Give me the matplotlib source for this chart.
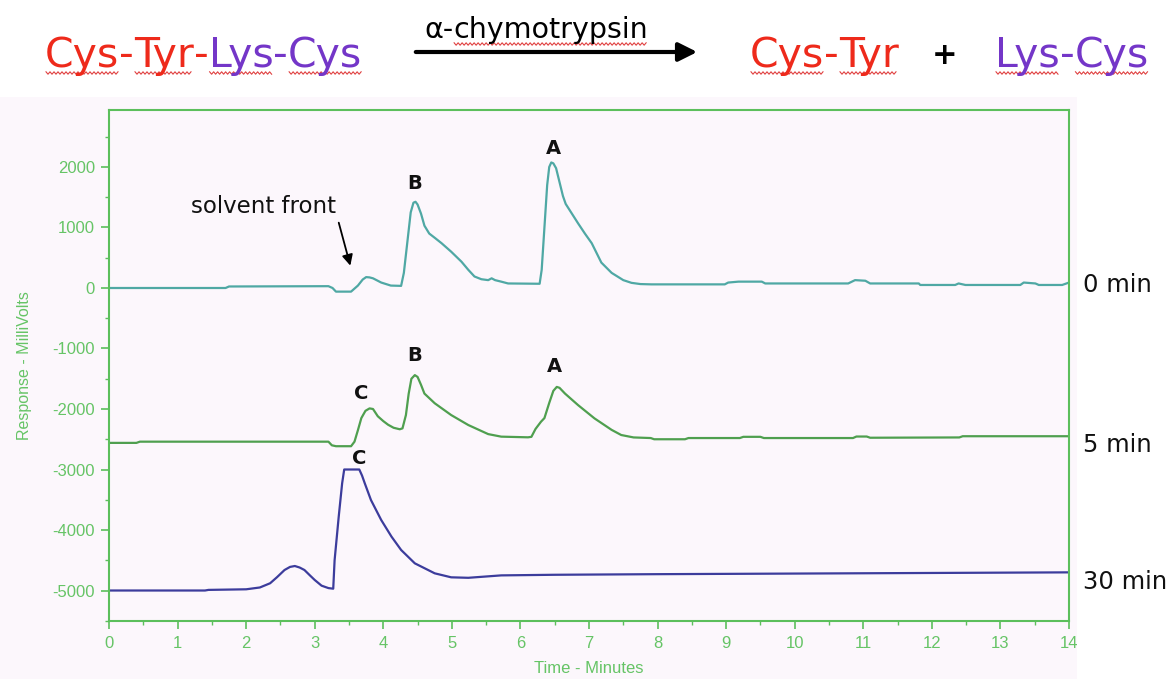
import numpy as np
import matplotlib
matplotlib.use("Agg")
import matplotlib.pyplot as plt
from matplotlib.patches import Rectangle, FancyArrowPatch
from matplotlib.lines import Line2D

# ---- chromatogram traces (time in minutes, response in millivolts) ----
t_0min = [0.00, 1.70, 1.75, 3.20, 3.26, 3.31, 3.53, 3.63, 3.70, 3.75, 3.80, 3.85,
          3.97, 4.11, 4.26, 4.30, 4.35, 4.40, 4.44, 4.47, 4.50, 4.55, 4.60, 4.67,
          4.75, 4.85, 4.99, 5.14, 5.24, 5.33, 5.43, 5.53, 5.58, 5.63, 5.72, 5.82,
          6.28, 6.31, 6.35, 6.39, 6.42, 6.45, 6.48, 6.52, 6.57, 6.62, 6.66, 6.75,
          6.84, 6.94, 7.04, 7.18, 7.33, 7.50, 7.62, 7.75, 7.91, 8.98, 9.03, 9.18,
          9.52, 9.57, 10.78, 10.88, 11.03, 11.10, 11.81, 11.83, 12.34, 12.39, 12.49,
          13.29, 13.34, 13.51, 13.56, 13.90, 14.00]
v_0min = [0, 0, 25, 30, 0, -60, -60, 40, 140, 180, 175, 160,
          90, 40, 35, 250, 750, 1250, 1410, 1425, 1380, 1230, 1030, 900,
          830, 740, 600, 435, 300, 190, 145, 130, 160, 130, 105, 75,
          70, 300, 1000, 1700, 2000, 2075, 2060, 1980, 1750, 1520, 1390, 1230,
          1070, 900, 740, 420, 250, 130, 85, 65, 60, 60, 90, 105,
          105, 75, 75, 130, 120, 75, 75, 50, 50, 75, 50,
          50, 90, 75, 50, 50, 90]

t_5min = [0.00, 0.40, 0.45, 3.20, 3.25, 3.31, 3.53, 3.58, 3.63, 3.68, 3.74, 3.80,
          3.85, 3.92, 4.00, 4.07, 4.15, 4.24, 4.28, 4.33, 4.37, 4.41, 4.46, 4.50,
          4.55, 4.60, 4.75, 4.99, 5.24, 5.53, 5.72, 6.11, 6.16, 6.22, 6.30, 6.35,
          6.42, 6.48, 6.53, 6.57, 6.65, 6.84, 7.08, 7.33, 7.47, 7.65, 7.90, 7.95,
          8.40, 8.45, 9.20, 9.25, 9.50, 9.55, 10.85, 10.90, 11.05, 11.10, 12.40,
          12.45, 14.00]
v_5min = [-2560, -2560, -2540, -2540, -2600, -2615, -2615, -2540, -2350, -2150, -2030, -1990,
          -2000, -2120, -2200, -2260, -2310, -2335, -2320, -2100, -1750, -1500, -1440, -1470,
          -1600, -1745, -1905, -2100, -2265, -2415, -2457, -2468, -2460, -2330, -2210, -2150,
          -1900, -1700, -1635, -1650, -1745, -1935, -2155, -2345, -2430, -2470, -2480, -2500,
          -2500, -2480, -2480, -2460, -2460, -2480, -2480, -2455, -2455, -2475, -2470,
          -2450, -2450]

t_30min = [0.00, 1.40, 1.45, 2.00, 2.20, 2.35, 2.45, 2.56, 2.64, 2.71, 2.78, 2.85,
           2.93, 3.00, 3.10, 3.20, 3.27, 3.29, 3.35, 3.40, 3.43, 3.65, 3.69, 3.73,
           3.82, 3.97, 4.12, 4.26, 4.46, 4.75, 4.99, 5.24, 5.72, 6.50, 8.00, 10.00,
           12.00, 14.00]
v_30min = [-5000, -5000, -4990, -4980, -4950, -4880, -4780, -4661, -4610, -4595, -4620, -4661,
           -4750, -4826, -4920, -4960, -4970, -4500, -3780, -3228, -3000, -3000, -3100, -3228,
           -3504, -3835, -4110, -4330, -4551, -4716, -4782, -4790, -4750, -4740, -4730, -4720,
           -4710, -4700]

trace_labels = ["0 min", "5 min", "30 min"]
trace_colors = ["#4fa8a4", "#4f9f4f", "#3c3c9c"]

# peak identifiers: (letter, time, response)
peak_letters = ["B", "A", "C", "B", "A", "C"]
peak_times = [4.46, 6.48, 3.68, 4.46, 6.50, 3.65]
peak_resp = [1730, 2310, -1740, -1110, -1290, -2815]

x_ticks = list(range(0, 15))
y_ticks = list(range(-5000, 2001, 1000))

W, H = 1169, 679
GREEN = "#5cbf5c"
GREEN_TXT = "#66c466"
BG = "#fcf7fc"

fig = plt.figure(figsize=(W / 100, H / 100), dpi=100)
fig.patch.set_facecolor("white")
fig.add_artist(Rectangle((0, 0), 1077 / W, 1 - 97 / H, transform=fig.transFigure,
                         facecolor=BG, edgecolor="none", zorder=-10))

ax = fig.add_axes([109 / W, 1 - 621 / H, 960 / W, 511 / H])
ax.set_facecolor(BG)
ax.set_xlim(0, 14)
ax.set_ylim(-5504, 2942)

for t, v, c in zip([t_0min, t_5min, t_30min], [v_0min, v_5min, v_30min], trace_colors):
    ax.plot(t, v, color=c, lw=1.6, solid_joinstyle="round")

for s in ax.spines.values():
    s.set_color(GREEN)
    s.set_linewidth(1.5)

ax.set_xticks(x_ticks)
ax.set_xticklabels([str(x) for x in x_ticks])
ax.set_yticks(y_ticks)
ax.set_yticklabels([str(y).replace("\u2212", "-") for y in y_ticks])
ax.set_xticks(np.arange(0.5, 14, 1.0), minor=True)
ax.set_yticks(np.arange(-5500, 2600, 1000), minor=True)
ax.tick_params(axis="both", which="major", colors=GREEN, labelcolor=GREEN_TXT,
               length=6, width=1.2, labelsize=12)
ax.tick_params(axis="both", which="minor", colors=GREEN, length=3, width=1.0)
ax.tick_params(axis="x", pad=5)
ax.tick_params(axis="y", pad=4)
for lab in ax.get_xticklabels() + ax.get_yticklabels():
    lab.set_family("Liberation Sans")

ax.set_xlabel("Time - Minutes", color=GREEN_TXT, fontsize=12, family="Liberation Sans")
ax.set_ylabel("Response - MilliVolts", color=GREEN_TXT, fontsize=11.5, family="Liberation Sans")
ax.xaxis.set_label_coords(0.5, -0.078)
ax.yaxis.set_label_coords(-0.08, 0.5)

# peak letters
for letter, t, v in zip(peak_letters, peak_times, peak_resp):
    ax.text(t, v, letter, ha="center", va="center", fontsize=14, fontweight="bold",
            color="#111111", family="DejaVu Sans")

# solvent front note
ax.text(2.25, 1340, "solvent front", ha="center", va="center", fontsize=16.5,
        color="#111111", family="DejaVu Sans")
ax.annotate("", xy=(3.53, 325), xytext=(3.34, 1124),
            arrowprops=dict(arrowstyle="-|>", color="black", lw=1.3, mutation_scale=16))

# trace labels at the right edge
label_y = [50, -2600, -4860]
for lab, y in zip(trace_labels, label_y):
    ax.text(14.2, y, lab, ha="left", va="center", fontsize=17.5, color="#111111",
            family="DejaVu Sans", clip_on=False)

# ---- reaction scheme above the chart ----
RED = "#ee2a1b"
PURPLE = "#7436c8"
renderer = fig.canvas.get_renderer()


def squiggle(x0, x1, y_px):
    xs = np.arange(x0, x1, 2.0)
    ys = np.where(np.arange(len(xs)) % 2 == 0, y_px - 1.2, y_px + 1.2)
    fig.add_artist(Line2D(xs / W, 1 - ys / H, transform=fig.transFigure,
                          color="#e04040", lw=0.8))


def place(pieces, x_px, base_px, size):
    x = x_px
    for txt, color, wavy in pieces:
        t = fig.text(x / W, 1 - base_px / H, txt, color=color, fontsize=size,
                     va="baseline", ha="left", family="DejaVu Sans")
        bb = t.get_window_extent(renderer)
        if wavy:
            squiggle(bb.x0 + 1, bb.x1 - 1, base_px + 6)
        x = bb.x1


place([("Cys", RED, True), ("-", RED, False), ("Tyr", RED, True), ("-", RED, False),
       ("Lys", PURPLE, True), ("-", PURPLE, False), ("Cys", PURPLE, True)], 45, 67, 29.5)
place([("\u03b1-", "black", False), ("chymotrypsin", "black", True)], 424, 38, 20.5)
place([("Cys", RED, True), ("-", RED, False), ("Tyr", RED, True)], 750, 67, 29.5)
fig.text(945 / W, 1 - 64 / H, "+", color="black", fontsize=22, fontweight="bold",
         ha="center", va="baseline", family="DejaVu Sans")
place([("Lys", PURPLE, True), ("-", PURPLE, False), ("Cys", PURPLE, True)], 995, 67, 29.5)

fig.add_artist(FancyArrowPatch((413 / W, 1 - 52 / H), (700 / W, 1 - 52 / H),
                               transform=fig.transFigure, arrowstyle="-|>",
                               mutation_scale=28, lw=3, color="black"))

fig.savefig("out.png", dpi=100, facecolor=fig.get_facecolor())
